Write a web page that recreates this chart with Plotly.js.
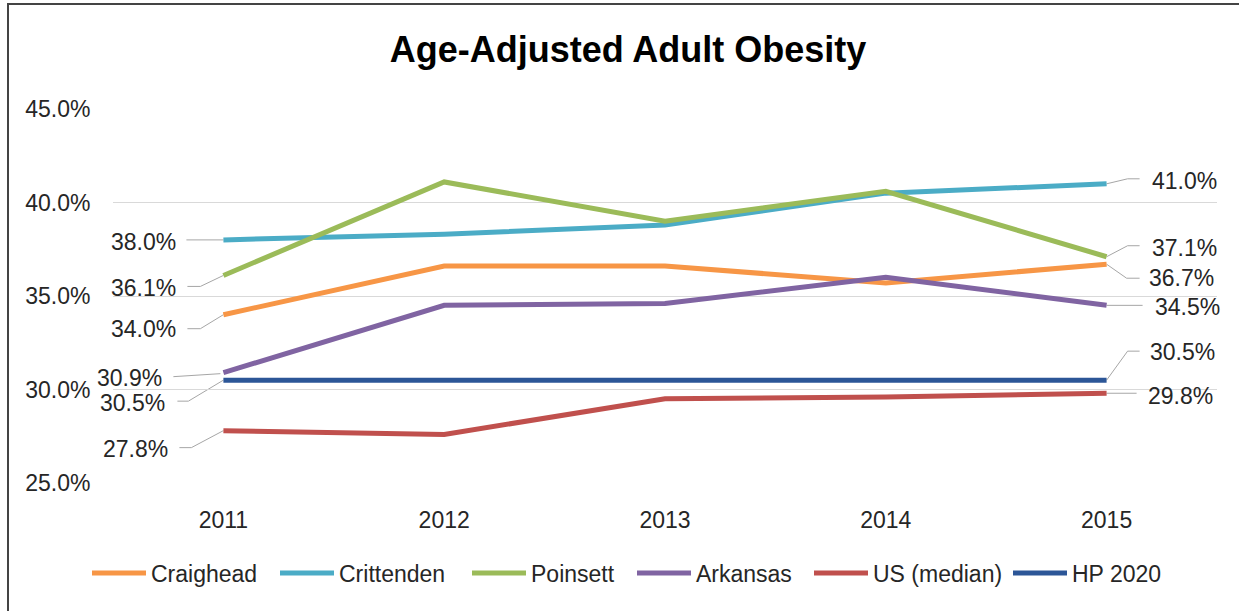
<!DOCTYPE html>
<html>
<head>
<meta charset="utf-8">
<script src="https://cdn.plot.ly/plotly-3.0.1.min.js"></script>
<style>
  html, body { margin: 0; padding: 0; background: #fff; overflow: hidden; }
  #chart { width: 1239px; height: 611px; }
  #frame { position: absolute; left: 7px; top: 3px; width: 1300px; height: 700px;
           border: 2px solid #444; pointer-events: none; }
</style>
</head>
<body>
<div id="chart"></div>
<div id="frame"></div>
<script>
// ---- data ----
const years = ['2011', '2012', '2013', '2014', '2015'];
const seriesNames = ['Craighead', 'Crittenden', 'Poinsett', 'Arkansas', 'US (median)', 'HP 2020'];
const craighead  = [34.0, 36.6, 36.6, 35.7, 36.7];
const crittenden = [38.0, 38.3, 38.8, 40.5, 41.0];
const poinsett   = [36.1, 41.1, 39.0, 40.6, 37.1];
const arkansas   = [30.9, 34.5, 34.6, 36.0, 34.5];
const usMedian   = [27.8, 27.6, 29.5, 29.6, 29.8];
const hp2020     = [30.5, 30.5, 30.5, 30.5, 30.5];
const seriesValues = [craighead, crittenden, poinsett, arkansas, usMedian, hp2020];
const colors = ['#F79646', '#4BACC6', '#9BBB59', '#8064A2', '#C0504D', '#2C5697'];

// legend entry left positions (px, page coords)
const legendStarts = [93, 281, 473, 638, 815, 1014];

// label callouts (pixel offsets relative to point): leader path, xshift, yshift
const leftCallouts = [
  {path: 'M0,0 L-23,-14 L-36,-14', xs: -45, ys: -14},   // Craighead
  {path: 'M0,0 L-37,0',            xs: -45, ys: -2},    // Crittenden
  {path: 'M0,0 L-23,-11 L-36,-11', xs: -45, ys: -13},   // Poinsett
  {path: 'M-3,-1 L-50,-4',         xs: -59, ys: -5},    // Arkansas
  {path: 'M0,0 L-32,-17 L-44,-17', xs: -53, ys: -18},   // US
  {path: 'M0,0 L-35,-21 L-46,-21', xs: -56, ys: -23}    // HP
];
const rightCallouts = [
  {path: 'M0,0 L20,-14 L33,-14', xs: 40, ys: -14},      // Craighead
  {path: 'M0,0 L21,5 L33,5',     xs: 43, ys: 3},        // Crittenden
  {path: 'M0,0 L21,11 L33,11',   xs: 43, ys: 9},        // Poinsett
  {path: 'M0,0 L36,0',           xs: 46, ys: -2},       // Arkansas
  {path: 'M0,0 L30,0',           xs: 39, ys: -3},       // US
  {path: 'M0,0 L21,29 L33,29',   xs: 41, ys: 28}        // HP
];

const xIdx = years.map((_, i) => i);
const txtColor = '#262626';
const fontFam = '"Liberation Sans", Arial, sans-serif';
const plotL = 113, plotW = 1104, plotB = 483, plotH = 374;

const traces = seriesNames.map((name, k) => ({
  type: 'scatter', mode: 'lines', name: name,
  x: xIdx, y: seriesValues[k],
  line: {color: colors[k], width: 5},
  legend: k === 0 ? 'legend' : 'legend' + (k + 1),
  hoverinfo: 'skip'
}));

const shapes = [];
const annotations = [];
seriesValues.forEach((vals, k) => {
  const last = vals.length - 1;
  [[0, leftCallouts[k], 'right'], [last, rightCallouts[k], 'left']].forEach(([i, c, anchor]) => {
    shapes.push({
      type: 'path', xref: 'x', yref: 'y',
      xsizemode: 'pixel', ysizemode: 'pixel',
      xanchor: i, yanchor: vals[i],
      path: c.path,
      line: {color: '#a6a6a6', width: 1}, layer: 'below'
    });
    annotations.push({
      xref: 'x', yref: 'y', x: i, y: vals[i],
      text: vals[i].toFixed(1) + '%',
      showarrow: false, xanchor: anchor, yanchor: 'middle',
      xshift: c.xs, yshift: c.ys,
      font: {size: 23, color: txtColor, family: fontFam}
    });
  });
});

const layout = {
  width: 1239, height: 611,
  margin: {l: plotL, r: 22, t: 109, b: 128},
  paper_bgcolor: '#fff', plot_bgcolor: '#fff',
  font: {family: fontFam, size: 23, color: txtColor},
  title: {
    text: '<b>Age-Adjusted Adult Obesity</b>',
    font: {size: 36, color: '#000', family: fontFam},
    xref: 'container', yref: 'container', x: 628 / 1239, xanchor: 'center',
    y: 1 - 49 / 611, yanchor: 'middle'
  },
  xaxis: {
    type: 'linear', range: [-0.5, 4.5],
    tickvals: xIdx, ticktext: years,
    showgrid: false, zeroline: false, showline: false,
    ticks: 'outside', ticklen: 16, tickcolor: 'rgba(0,0,0,0)',
    tickfont: {size: 23, color: txtColor}
  },
  yaxis: {
    range: [25, 45], dtick: 5, tick0: 25,
    tickformat: '.1f', ticksuffix: '%',
    showgrid: true, gridcolor: '#d9d9d9', gridwidth: 1,
    zeroline: false, showline: false,
    ticks: 'outside', ticklen: 17, tickcolor: 'rgba(0,0,0,0)',
    tickfont: {size: 23, color: txtColor}
  },
  showlegend: true,
  shapes: shapes,
  annotations: annotations
};

legendStarts.forEach((px, k) => {
  const key = k === 0 ? 'legend' : 'legend' + (k + 1);
  layout[key] = {
    orientation: 'h', x: (px - 6 - plotL) / plotW, xanchor: 'left',
    y: (plotB - 573) / plotH, yanchor: 'middle',
    font: {size: 23, color: txtColor}, itemwidth: 54,
    bgcolor: 'rgba(0,0,0,0)'
  };
});

Plotly.newPlot('chart', traces, layout, {displayModeBar: false, staticPlot: true});
</script>
</body>
</html>
